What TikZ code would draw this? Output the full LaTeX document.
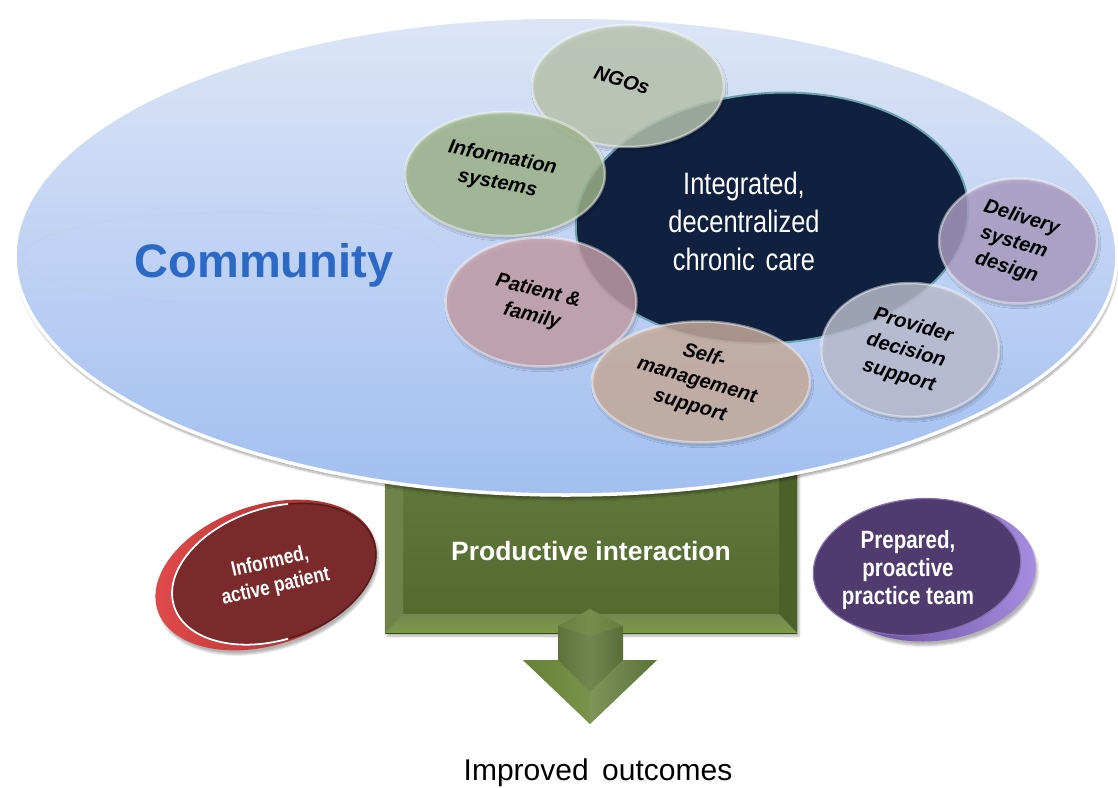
\documentclass[tikz,border=0pt]{standalone}
\usepackage{fontspec}
\setmainfont{Liberation Sans}
\newfontfamily\narrowsans[FakeStretch=0.82]{Liberation Sans}
\usetikzlibrary{shapes.geometric,shadows.blur}

\definecolor{commTop}{HTML}{DCE5F6}
\definecolor{commBot}{HTML}{A2BFF1}
\definecolor{coreC}{HTML}{0F213F}
\definecolor{ngoC}{HTML}{C0CAB6}
\definecolor{infoC}{HTML}{A4BB8F}
\definecolor{patC}{HTML}{CBA3AC}
\definecolor{selfC}{HTML}{CFB2A1}
\definecolor{provC}{HTML}{C2C3D6}
\definecolor{delivC}{HTML}{B1A2C8}
\definecolor{oliveC}{HTML}{5A7131}
\definecolor{oliveL}{HTML}{7D9B47}
\definecolor{oliveD}{HTML}{465B22}
\definecolor{commText}{HTML}{2C69C4}
\definecolor{redFace}{HTML}{7A2A2A}
\definecolor{redRimL}{HTML}{E34B4B}
\definecolor{redRimD}{HTML}{9C2828}
\definecolor{purFace}{HTML}{4F3B6D}
\definecolor{purRimL}{HTML}{A88EE0}
\definecolor{purRimD}{HTML}{5B4090}

\begin{document}
\begin{tikzpicture}[x=1pt,y=-1pt,
  satellite/.style={ellipse, inner sep=0pt, fill=#1, fill opacity=0.8,
    draw=white, draw opacity=0.45, line width=2.5pt,
    blur shadow={shadow xshift=1.5pt, shadow yshift=-3pt, shadow blur steps=8, shadow opacity=30}},
  satlabel/.style={align=center, text=black, inner sep=0pt,
    font=\fontsize{20}{26}\selectfont\bfseries\itshape},
  whitelabel/.style={align=center, text=white, inner sep=0pt},
  disk/.style={ellipse, inner sep=0pt, minimum width=#1},
]
\useasboundingbox (0,0) rectangle (1118,787);

% ---- productive interaction block (its top tucks under the community ellipse)
\node[rectangle, minimum width=412, minimum height=164, inner sep=0pt,
      top color=oliveC!95!white, bottom color=oliveC!92!black,
      blur shadow={shadow xshift=2pt, shadow yshift=-3pt, shadow opacity=30},
      text=white, font=\fontsize{26.5}{30}\selectfont\bfseries]
  (interact) at (591,551) {Productive interaction};
% bevelled edges
\fill[oliveC!88!white] (interact.south west) -- (385,470) -- (403,470) -- (403,614) -- cycle;
\fill[oliveC!85!black] (interact.south east) -- (797,470) -- (779,470) -- (779,614) -- cycle;
\shade[top color=oliveC!85!white, bottom color=oliveL]
  (interact.south west) -- (interact.south east) -- (779,614) -- (403,614) -- cycle;
\draw[oliveD!80!black, line width=1pt] (interact.south west) -- (interact.south east);

% ---- block arrow towards the outcome
\shade[left color=oliveD, right color=oliveD!90!black, middle color=oliveC!85!white]
  (558,626) -- (590,609) -- (623,626) -- (623,660) -- (657,660)
  -- (590,724) -- (523,660) -- (558,660) -- cycle;
\fill[oliveL, opacity=0.6] (523,660) -- (558,660) -- (590,692) -- (590,724) -- cycle;
\fill[oliveL!80!white, opacity=0.35] (657,660) -- (623,660) -- (590,692) -- (590,724) -- cycle;
\fill[oliveL, opacity=0.35] (558,626) -- (590,609) -- (623,626) -- (590,636) -- cycle;

% ---- community ellipse
\node[ellipse, minimum width=1102, minimum height=478, inner sep=0pt,
      top color=commTop, bottom color=commBot, draw=white, line width=3.5pt,
      blur shadow={shadow xshift=1pt, shadow yshift=-4pt, shadow blur steps=10, shadow opacity=35}]
  (community) at (566,256) {};
% faint inner outline
\draw[gray!50, densely dotted, line width=0.5pt, opacity=0.6]
  (235,258) ++(-15:212 and 46) arc[start angle=-15, end angle=-254, x radius=212, y radius=46];

\node[text=commText, font=\fontsize{47}{50}\selectfont\bfseries, anchor=base]
  (commLabel) at (264,277) {Community};

% ---- integrated chronic care core
\node[ellipse, minimum width=393, minimum height=250, inner sep=0pt, rotate=4,
      fill=coreC, draw=coreC!70!cyan!60!white, line width=2pt]
  (core) at (772,218) {};
\node[whitelabel, font=\narrowsans\fontsize{31}{38}\selectfont]
  (coreText) at (744,221) {Integrated,\\decentralized\\chronic\hspace{0.35em}care};

% ---- surrounding components
\node[satellite=ngoC,    minimum width=192, minimum height=122] (ngo)      at (628,86)  {};
\node[satellite=infoC,   minimum width=200, minimum height=124] (info)     at (505,174) {};
\node[satellite=patC,    minimum width=191, minimum height=129] (patient)  at (541,302) {};
\node[satellite=selfC,   minimum width=218, minimum height=121] (selfmgmt) at (701,382) {};
\node[satellite=provC,   minimum width=178, minimum height=134] (provider) at (910,350) {};
\node[satellite=delivC,  minimum width=158, minimum height=125] (delivery) at (1018,241) {};

\node[satlabel, rotate=-17] (ngoText)      at (622,80)  {NGOs};
\node[satlabel, rotate=-11] (infoText)     at (500,171) {Information\\systems};
\node[satlabel, rotate=-14] (patientText)  at (535,304) {Patient \&\\family};
\node[satlabel, rotate=-16] (selfText)     at (697,381) {Self-\\management\\support};
\node[satlabel, rotate=-16] (providerText) at (906,351) {Provider\\decision\\support};
\node[satlabel, rotate=-17] (deliveryText) at (1014,243) {Delivery\\system\\design};

% ---- informed, active patient (red disc seen at an angle)
\node[disk=228, minimum height=140, rotate=18, left color=redRimL, right color=redRimD,
      blur shadow={shadow xshift=2pt, shadow yshift=-4pt, shadow opacity=30}]
  (redRim) at (266,575) {};
\node[disk=210, minimum height=132, rotate=18, fill=redFace, draw=redFace!70!black, line width=1.5pt]
  (redDisk) at (274,574) {};
\begin{scope}
  \clip (140,480) rectangle (288,660);
  \draw[white, line width=1.8pt, rotate around={18:(274,574)}]
    (274,574) ellipse[x radius=105, y radius=66];
\end{scope}
\node[whitelabel, rotate=13, font=\narrowsans\fontsize{21}{25}\selectfont\bfseries]
  (redText) at (273,575) {Informed,\\active patient};

% ---- prepared, proactive practice team (purple disc)
\node[disk=208, minimum height=136, rotate=6, left color=purRimD, right color=purRimL,
      blur shadow={shadow xshift=2pt, shadow yshift=-4pt, shadow opacity=30}]
  (purRim) at (932,573) {};
\node[disk=208, minimum height=136, rotate=6, fill=purFace, draw=purRimL!60!purFace, line width=1.2pt]
  (purDisk) at (917,567) {};
\node[whitelabel, font=\narrowsans\fontsize{25}{28}\selectfont\bfseries]
  (purText) at (908,570) {Prepared,\\proactive\\practice team};

% ---- outcome
\node[anchor=base, font=\fontsize{30}{34}\selectfont, inner sep=0pt]
  (outcome) at (598,780) {Improved\hspace{0.45em}outcomes};
\end{tikzpicture}
\end{document}
